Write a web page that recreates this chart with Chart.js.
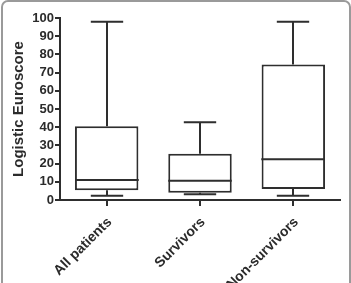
<!DOCTYPE html>
<html>
<head>
<meta charset="utf-8">
<script src="https://cdn.jsdelivr.net/npm/chart.js@4/dist/chart.umd.min.js"></script>
<style>
  html, body { margin: 0; padding: 0; background: #fff; overflow: hidden; }
  #wrap { position: relative; width: 351px; height: 283px; overflow: hidden; }
  #frame {
    position: absolute; left: 1px; top: 0; width: 346px; height: 310px;
    border: 2px solid #9a9a9a; border-radius: 7px; pointer-events: none;
  }
  canvas { position: absolute; left: 0; top: 0; }
</style>
</head>
<body>
<div id="wrap">
  <canvas id="chart" width="351" height="283"></canvas>
  <div id="frame"></div>
</div>
<script>
// Valors llegits de la figura (percentils del Logistic Euroscore)
const categories = ["All patients", "Survivors", "Non-survivors"];
const minVals = [2.4, 3.1, 2.4];
const q1Vals = [5.3, 4.0, 6.0];
const medianVals = [11.0, 10.6, 22.4];
const q3Vals = [40.5, 25.4, 74.4];
const maxVals = [98, 42.7, 98];
const yTicks = [0, 10, 20, 30, 40, 50, 60, 70, 80, 90, 100];

const lineColor = "#2e2e2e";
const textColor = "#2b2b2b";
const fontFamily = "'Liberation Sans', Arial, sans-serif";

// Dibuixa la mediana i els bigotis a partir de les escales del gràfic
const boxWhiskers = {
    id: "boxWhiskers",
    afterDatasetsDraw(chart) {
        const { ctx, scales: { y } } = chart;
        const meta = chart.getDatasetMeta(0);
        ctx.save();
        ctx.strokeStyle = lineColor;
        ctx.lineWidth = 2;
        categories.forEach((c, i) => {
            const bar = meta.data[i];
            const cx = Math.round(bar.x);
            const half = bar.width / 2;
            const capHalf = half * 0.51;
            const yMed = y.getPixelForValue(medianVals[i]);
            const yQ1 = y.getPixelForValue(q1Vals[i]);
            const yQ3 = y.getPixelForValue(q3Vals[i]);
            const yMin = y.getPixelForValue(minVals[i]);
            const yMax = y.getPixelForValue(maxVals[i]);

            ctx.beginPath();
            ctx.moveTo(cx - half, yMed);
            ctx.lineTo(cx + half, yMed);
            // bigoti superior
            ctx.moveTo(cx, yQ3);
            ctx.lineTo(cx, yMax);
            ctx.moveTo(cx - capHalf, yMax);
            ctx.lineTo(cx + capHalf, yMax);
            // bigoti inferior
            ctx.moveTo(cx, yQ1);
            ctx.lineTo(cx, yMin);
            ctx.moveTo(cx - capHalf, yMin);
            ctx.lineTo(cx + capHalf, yMin);
            ctx.stroke();
        });
        ctx.restore();
    }
};

const ctx = document.getElementById("chart").getContext("2d");
new Chart(ctx, {
    type: "bar",
    data: {
        labels: categories,
        datasets: [{
            data: categories.map((c, i) => [q1Vals[i], q3Vals[i]]),
            backgroundColor: "#ffffff",
            borderColor: lineColor,
            borderWidth: 2,
            borderSkipped: false,
            barPercentage: 0.68,
            categoryPercentage: 1
        }]
    },
    options: {
        responsive: false,
        animation: false,
        layout: { padding: { top: 18, left: 6, right: 11, bottom: 0 } },
        plugins: {
            legend: { display: false },
            tooltip: { enabled: false }
        },
        scales: {
            x: {
                offset: true,
                grid: {
                    display: true,
                    drawOnChartArea: false,
                    drawTicks: true,
                    offset: false,
                    tickLength: 6,
                    color: lineColor,
                    lineWidth: 2
                },
                border: { display: true, color: lineColor, width: 2 },
                ticks: {
                    minRotation: 45,
                    maxRotation: 45,
                    padding: 8,
                    labelOffset: 3,
                    color: textColor,
                    font: { family: fontFamily, size: 14, weight: "bold" }
                },
                afterFit(scale) { scale.height = 83; }
            },
            y: {
                min: 0,
                max: 100,
                afterBuildTicks(scale) { scale.ticks = yTicks.map(v => ({ value: v })); },
                grid: {
                    display: true,
                    drawOnChartArea: false,
                    drawTicks: true,
                    tickLength: 5,
                    color: lineColor,
                    lineWidth: 2
                },
                border: { display: true, color: lineColor, width: 2 },
                ticks: {
                    autoSkip: false,
                    padding: 1,
                    color: textColor,
                    font: { family: fontFamily, size: 13, weight: "bold" }
                },
                title: {
                    display: true,
                    text: "Logistic Euroscore",
                    color: textColor,
                    font: { family: fontFamily, size: 15, weight: "bold" }
                },
                afterFit(scale) { scale.width = 54; }
            }
        }
    },
    plugins: [boxWhiskers]
});
</script>
</body>
</html>
